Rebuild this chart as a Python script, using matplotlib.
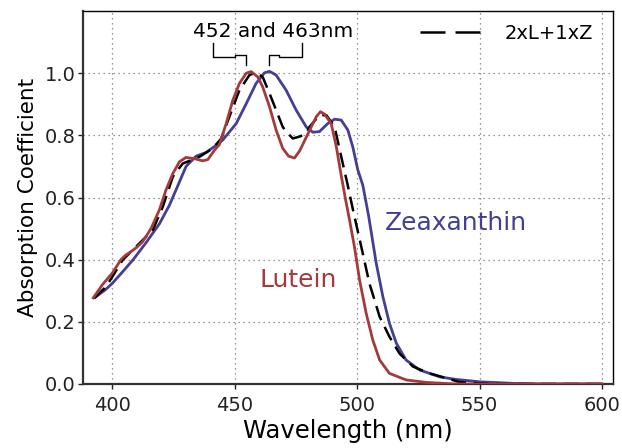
import matplotlib
matplotlib.use('Agg')
import matplotlib.pyplot as plt

# absorption spectra
lut_wl = [392.2, 396.0, 400.0, 403.5, 405.5, 408.0, 410.0, 412.4, 415.8, 419.2, 421.9, 424.7,
          427.4, 430.1, 433.5, 436.9, 439.0, 441.7, 443.7, 446.5, 449.2, 451.9, 454.7, 456.7,
          459.4, 461.4, 464.2, 466.9, 469.6, 472.0, 474.4, 476.5, 480.5, 483.3, 485.0, 486.7,
          489.4, 491.5, 493.5, 495.3, 496.9, 498.9, 501.0, 503.7, 506.4, 509.2, 513.2, 520.0,
          528.3, 540.0, 600.0]
lut_abs = [0.277, 0.320, 0.357, 0.400, 0.415, 0.428, 0.440, 0.458, 0.500, 0.560, 0.624, 0.677,
           0.715, 0.729, 0.725, 0.718, 0.722, 0.752, 0.770, 0.838, 0.913, 0.967, 1.000, 1.005,
           0.988, 0.956, 0.892, 0.817, 0.758, 0.733, 0.727, 0.750, 0.815, 0.860, 0.876, 0.868,
           0.838, 0.763, 0.670, 0.592, 0.527, 0.441, 0.334, 0.227, 0.141, 0.077, 0.034, 0.013,
           0.005, 0.0, 0.0]

zea_wl = [393.3, 397.0, 400.0, 404.2, 408.5, 413.8, 419.2, 423.3, 427.4, 430.1, 434.2, 438.3,
          442.4, 445.1, 450.6, 454.7, 458.7, 462.1, 464.2, 466.9, 471.0, 475.1, 479.2, 481.9,
          484.6, 488.0, 490.8, 493.5, 496.2, 498.2, 500.3, 502.3, 504.7, 507.8, 510.5, 513.2,
          516.0, 520.0, 525.5, 533.7, 540.0, 550.0, 563.7, 575.0, 600.0]
zea_abs = [0.281, 0.302, 0.324, 0.361, 0.400, 0.455, 0.515, 0.575, 0.650, 0.700, 0.733, 0.745,
           0.768, 0.785, 0.838, 0.902, 0.967, 1.001, 1.006, 0.994, 0.945, 0.881, 0.827, 0.810,
           0.812, 0.838, 0.852, 0.849, 0.817, 0.763, 0.688, 0.640, 0.540, 0.388, 0.281, 0.195,
           0.131, 0.077, 0.045, 0.023, 0.015, 0.007, 0.002, 0.0, 0.0]

mix_wl = [392.5, 397.4, 400.0, 404.2, 411.0, 416.5, 420.6, 424.7, 428.7, 435.6, 441.0, 444.5,
          447.8, 451.9, 456.0, 458.7, 461.4, 464.2, 466.9, 469.6, 471.0, 473.7, 476.5, 479.2,
          480.5, 484.6, 487.4, 490.8, 493.5, 496.0, 498.3, 501.7, 505.0, 509.2, 513.2, 517.3,
          522.8, 529.6, 533.7, 541.9, 550.0, 560.0, 600.0]
mix_abs = [0.275, 0.313, 0.345, 0.399, 0.452, 0.495, 0.570, 0.667, 0.709, 0.731, 0.758, 0.790,
           0.860, 0.945, 0.994, 1.002, 0.988, 0.935, 0.881, 0.827, 0.812, 0.790, 0.796, 0.806,
           0.827, 0.865, 0.865, 0.827, 0.731, 0.645, 0.560, 0.441, 0.324, 0.216, 0.152, 0.098,
           0.056, 0.034, 0.025, 0.006, 0.002, 0.0, 0.0]

xticks = [400, 450, 500, 550, 600]
yticks = [0.0, 0.2, 0.4, 0.6, 0.8, 1.0]

red = '#a33b3d'
blue = '#453f94'

plt.rcParams['font.family'] = ['DejaVu Sans']

fig = plt.figure(figsize=(6.22, 4.48), dpi=100)
ax = fig.add_axes([0.1334, 0.1429, 0.8521, 0.8325])

ax.plot(zea_wl, zea_abs, color=blue, lw=2.0, zorder=3)
ax.plot(mix_wl, mix_abs, color='black', lw=1.8, ls=(0, (6, 3)), zorder=4)
ax.plot(lut_wl, lut_abs, color=red, lw=2.0, zorder=5)

ax.set_xlim(388, 604.5)
ax.set_ylim(0, 1.2)
ax.set_xticks(xticks)
ax.set_yticks(yticks)
ax.set_yticklabels(['%.1f' % v for v in yticks])
ax.tick_params(labelsize=14, length=3.5, width=1, colors='#222222', pad=2)
ax.tick_params(axis='x', pad=5)
ax.grid(True, color='#777777', ls=(0, (1, 3)), lw=0.9)

for s in ['left', 'bottom']:
    ax.spines[s].set_linewidth(1.6)
    ax.spines[s].set_color('#333333')
for s in ['top', 'right']:
    ax.spines[s].set_linewidth(1.0)

ax.set_xlabel('Wavelength (nm)', fontsize=17.5, labelpad=3)
ax.set_ylabel('Absorption Coefficient', fontsize=15.5, labelpad=5)

# legend-like label for the mixture
ax.plot([525.5, 552.5], [1.132, 1.132], color='black', lw=1.8, ls=(0, (10, 4)))
ax.text(560.3, 1.129, '2xL+1xZ', ha='left', va='center', fontsize=14)

# peak annotation
ax.text(465.5, 1.133, '452 and 463nm', ha='center', va='center', fontsize=14.5)
ax.plot([441.3, 441.3, 450.0, 450.0, 454.7, 454.7],
        [1.096, 1.051, 1.051, 1.058, 1.058, 1.026], color='black', lw=1.0)
ax.plot([477.5, 477.5, 468.0, 468.0, 464.0, 464.0],
        [1.096, 1.051, 1.051, 1.058, 1.058, 1.026], color='black', lw=1.0)

ax.text(540.4, 0.518, 'Zeaxanthin', color=blue, ha='center', va='center', fontsize=18)
ax.text(476.0, 0.334, 'Lutein', color=red, ha='center', va='center', fontsize=18)

plt.savefig('out.png', dpi=100)
